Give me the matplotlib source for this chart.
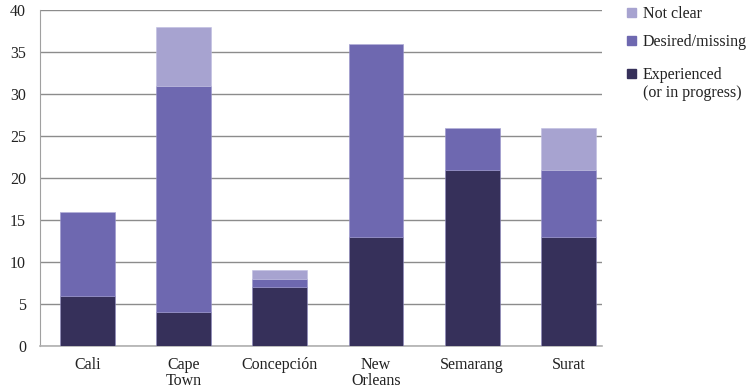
import matplotlib
matplotlib.use("Agg")
import matplotlib.pyplot as plt
from matplotlib.patches import Rectangle

categories = ["Cali", "Cape\nTown", "Concepción", "New\nOrleans", "Semarang", "Surat"]
experienced = [6, 4, 7, 13, 21, 13]
desired = [10, 27, 1, 23, 5, 8]
not_clear = [0, 7, 1, 0, 0, 5]
yticks = [0, 5, 10, 15, 20, 25, 30, 35, 40]

c_exp = "#36305A"
c_des = "#6E68B0"
c_nc = "#A7A3D0"

plt.rcParams['font.family'] = ['Liberation Serif', 'DejaVu Serif']
fig = plt.figure(figsize=(7.49, 3.91), dpi=100)
ax = fig.add_axes([40/749, 45/391, 562/749, 336/391])

x = list(range(len(categories)))
w = 0.57
b2 = experienced
b3 = [a + b for a, b in zip(experienced, desired)]
ax.bar(x, experienced, w, color=c_exp, zorder=3, edgecolor="#8f8ac0", linewidth=0.4)
ax.bar(x, desired, w, bottom=b2, color=c_des, zorder=3, edgecolor="#9a95cc", linewidth=0.4)
ax.bar(x, not_clear, w, bottom=b3, color=c_nc, zorder=3, edgecolor="#c0bde0", linewidth=0.4)

ax.set_xlim(-0.494, 5.35)
ax.set_ylim(0, 40)
ax.set_yticks(yticks)
ax.set_xticks(x)
ax.set_xticklabels(categories, fontsize=11.5, linespacing=0.95)
ax.tick_params(axis='both', length=0, labelsize=11.5, colors="#222222")
ax.tick_params(axis='y', pad=10)
ax.tick_params(axis='x', pad=8)
ax.grid(axis='y', color="#8c8c8c", linewidth=1.0, zorder=0)
for s in ["top", "right"]:
    ax.spines[s].set_visible(False)
ax.spines["left"].set_color("#a0a0a0")
ax.spines["bottom"].set_color("#b0b0b0")
ax.spines["bottom"].set_linewidth(1.2)

# legend
items = [(c_nc, "Not clear", 12), (c_des, "Desired/missing", 40), (c_exp, "Experienced\n(or in progress)", 73)]
for col, lab, ypix in items:
    fig.add_artist(Rectangle((627/749, 1 - (ypix + 5)/391), 9/749, 9/391, transform=fig.transFigure,
                             color=col))
    fig.text(643/749, 1 - (ypix - 6)/391, lab, fontsize=11.5, va='top', ha='left',
             color="#222222", linespacing=1.15)

fig.savefig("out.png", dpi=100)
